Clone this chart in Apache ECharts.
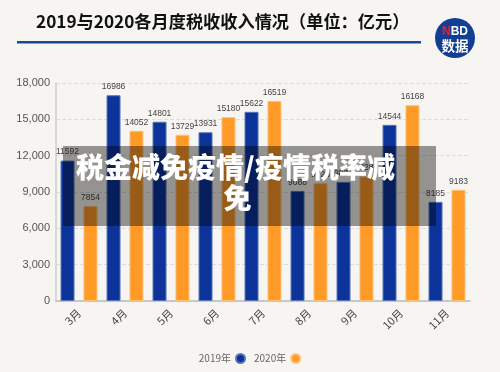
<!DOCTYPE html>
<html><head><meta charset="utf-8">
<script src="https://cdn.jsdelivr.net/npm/echarts@6/dist/echarts.min.js"></script>
<style>html,body{margin:0;padding:0;background:#f7f5f1;}#c{width:500px;height:372px;}</style>
</head><body><div id="c"></div>
<script>
const months = ['3月','4月','5月','6月','7月','8月','9月','10月','11月'];
const tax2019 = [11592, 16986, 14801, 13931, 15622, 9088, 9834, 14544, 8185];
const tax2020 = [7854, 14052, 13729, 15180, 16519, 9726, 10284, 16168, 9183];
const yTicks = [0, 3000, 6000, 9000, 12000, 15000, 18000];
const seriesNames = ['2019年', '2020年'];
const titleText = '2019与2020各月度税收收入情况（单位：亿元）';
const overlayLine1 = '税金减免疫情/疫情税率减';
const overlayLine2 = '免';

const chart = echarts.init(document.getElementById('c'));
const lab = {show:true, position:'top', distance:4, color:'#444', fontSize:8.5, fontFamily:'Liberation Sans'};
chart.setOption({
  backgroundColor:'#f7f5f1',
  animation:false,
  grid:{left:56, right:30, top:83, bottom:71},
  legend:{bottom:3, left:'center', align:'right', icon:'circle', itemWidth:9, itemHeight:9, itemGap:8,
    textStyle:{color:'#666', fontSize:10, fontFamily:'Noto Sans CJK SC'}, data:seriesNames},
  xAxis:{type:'category', data:months,
    axisLine:{lineStyle:{color:'#bbb', width:1.5}}, axisTick:{show:false},
    axisLabel:{rotate:45, color:'#444', fontSize:11, fontFamily:'Noto Sans CJK SC', margin:10}},
  yAxis:{type:'value', min:yTicks[0], max:yTicks[yTicks.length-1], interval:3000,
    axisLine:{show:true, lineStyle:{color:'#ccc', width:1.5}}, axisTick:{show:false},
    axisLabel:{color:'#555', fontSize:11, fontFamily:'Liberation Sans', margin:6,
      formatter:v=>v.toLocaleString('en-US')},
    splitLine:{lineStyle:{color:'#ddd', type:'dashed'}}},
  series:[
    {name:seriesNames[0], type:'bar', data:tax2019, barWidth:14, barGap:'64%',
      itemStyle:{color:'#0c3399', borderColor:'#5a74bb', borderWidth:1}, label:lab},
    {name:seriesNames[1], type:'bar', data:tax2020, barWidth:14,
      itemStyle:{color:'#ff9a27', borderColor:'#ffc07a', borderWidth:1}, label:lab}
  ],
  graphic:[
    {type:'text', left:36, top:13, style:{text:titleText, fontSize:17.2, fontWeight:'bold', fill:'#111', fontFamily:'Noto Sans CJK SC'}},
    {type:'rect', shape:{x:17, y:41, width:404, height:2.5}, style:{fill:'#154a9b'}},
    {type:'circle', shape:{cx:455, cy:38, r:20}, style:{fill:'#123f94'}},
    {type:'text', x:455, y:32, style:{rich:{n:{fill:'#e8202a', fontSize:12, fontWeight:'bold', fontFamily:'Liberation Sans'}, b:{fill:'#fff', fontSize:12, fontWeight:'bold', fontFamily:'Liberation Sans'}}, text:'{n|N}{b|BD}', align:'center', verticalAlign:'middle'}},
    {type:'text', x:455, y:46, style:{text:'数据', fill:'#fff', fontSize:13.5, fontWeight:'bold', fontFamily:'Noto Sans CJK SC', align:'center', verticalAlign:'middle'}},
    {type:'rect', z:100, shape:{x:63, y:146, width:373, height:80}, style:{fill:'rgba(0,0,0,0.4)'}},
    {type:'text', z:101, x:235.5, y:167, style:{text:overlayLine1, fill:'#fff', fontSize:28, fontWeight:900, fontFamily:'Noto Sans CJK SC', align:'center', verticalAlign:'middle'}},
    {type:'text', z:101, x:237.5, y:198, style:{text:overlayLine2, fill:'#fff', fontSize:28, fontWeight:900, fontFamily:'Noto Sans CJK SC', align:'center', verticalAlign:'middle'}}
  ]
});
</script></body></html>
